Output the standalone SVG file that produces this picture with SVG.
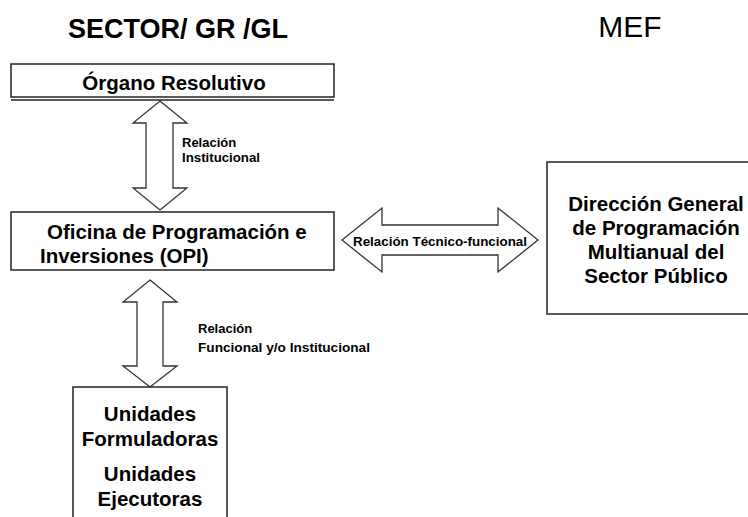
<svg xmlns="http://www.w3.org/2000/svg" width="748" height="517" viewBox="0 0 748 517">
<style>
text{font-family:"Liberation Sans",Arial,sans-serif;fill:#000}
.b{font-weight:bold}
.box{fill:#fff;stroke:#222;stroke-width:1.5}
.arr{fill:#fff;stroke:#333;stroke-width:1.3;stroke-linejoin:miter}
.lbl{font-size:13px;font-weight:bold}
.nt{font-size:20.5px;font-weight:bold}
</style>
<rect width="748" height="517" fill="#fff"/>
<text x="178" y="38" text-anchor="middle" class="b" font-size="27">SECTOR/ GR /GL</text>
<text x="630" y="37" text-anchor="middle" font-size="30">MEF</text>
<g id="connectors">
<polygon class="arr" points="160,101 187,123 173,123 173,188 187,188 160,210 133,188 146,188 146,123 133,123"/>
<polygon class="arr" points="150,280 177,302 163,302 163,366 177,366 150,387 123,366 137,366 137,302 123,302"/>
<polygon class="arr" points="342,240 382,208 382,225 498,225 498,208 538,240 498,272 498,255 382,255 382,272"/>
<text class="lbl" x="182" y="147">Relación</text>
<text class="lbl" x="182" y="162" textLength="78" lengthAdjust="spacingAndGlyphs">Institucional</text>
<text class="lbl" x="198" y="333">Relación</text>
<text class="lbl" x="198" y="352" textLength="172" lengthAdjust="spacingAndGlyphs">Funcional y/o Institucional</text>
<text class="lbl" x="353" y="246" textLength="174" lengthAdjust="spacingAndGlyphs">Relación Técnico-funcional</text>
</g>
<g id="organo">
<rect class="box" x="11" y="64" width="323" height="33"/>
<line x1="11" y1="100" x2="334" y2="100" stroke="#222" stroke-width="1.5"/>
<text class="nt" x="174" y="90" text-anchor="middle">Órgano Resolutivo</text>
</g>
<g id="opi">
<rect class="box" x="11" y="212" width="323" height="58"/>
<text class="nt" x="47" y="239">Oficina de Programación e</text>
<text class="nt" x="40" y="263">Inversiones (OPI)</text>
</g>
<g id="dgpm">
<rect class="box" x="547" y="162" width="220" height="152"/>
<text class="nt" x="656" y="211" text-anchor="middle">Dirección General</text>
<text class="nt" x="656" y="235" text-anchor="middle">de Programación</text>
<text class="nt" x="656" y="259" text-anchor="middle">Multianual del</text>
<text class="nt" x="656" y="283" text-anchor="middle">Sector Público</text>
</g>
<g id="unidades">
<rect class="box" x="73" y="387" width="154" height="145"/>
<text class="nt" x="150" y="421" text-anchor="middle">Unidades</text>
<text class="nt" x="150" y="446" text-anchor="middle">Formuladoras</text>
<text class="nt" x="150" y="481" text-anchor="middle">Unidades</text>
<text class="nt" x="150" y="506" text-anchor="middle">Ejecutoras</text>
</g>
</svg>
